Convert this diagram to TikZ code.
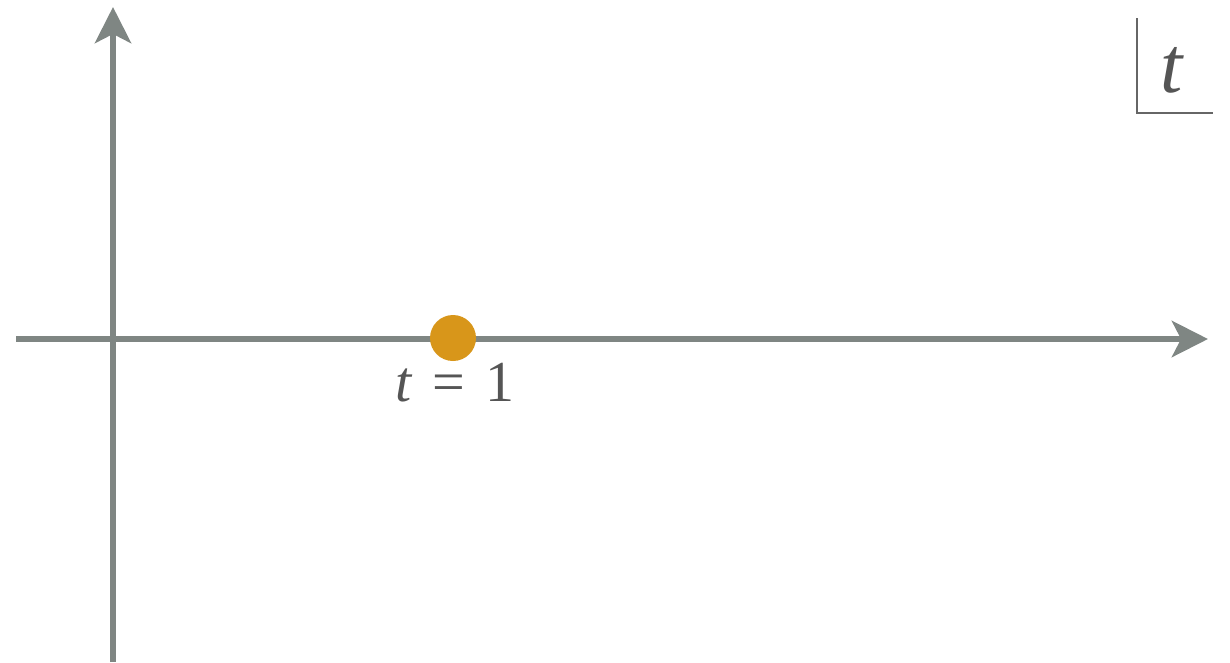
\documentclass[tikz,border=0pt]{standalone}
\usepackage{fontspec}
\setmainfont{Liberation Serif}
\usetikzlibrary{arrows.meta}
\definecolor{axisgray}{HTML}{7F8683}
\definecolor{dotorange}{HTML}{D8961A}
\definecolor{textgray}{HTML}{555555}
\definecolor{boxgray}{HTML}{666666}
\begin{document}
\begin{tikzpicture}[x=1pt,y=-1pt,
  axis/.style={draw=axisgray,line width=6.5pt,-{Stealth[length=36pt,width=36pt,inset=9pt]}},
  lbl/.style={text=textgray,inner sep=0pt}]
\useasboundingbox (0,0) rectangle (1230,662);
\coordinate (xs) at (16,339);
\coordinate (xe) at (1208,339);
\coordinate (ys) at (113,662);
\coordinate (ye) at (113,7);
\draw[axis] (xs) -- (xe);
\draw[axis] (ys) -- (ye);
\node[circle,fill=dotorange,minimum size=46pt,inner sep=0pt] (dot) at (453,338) {};
\node[lbl,font=\fontsize{58}{62}\selectfont,anchor=base] (lab) at (455,401) {\textit{t}\hspace{0.34em}=\hspace{0.34em}1};
\coordinate (bt) at (1137,18);
\coordinate (bc) at (1137,113);
\coordinate (br) at (1213,113);
\draw[boxgray,line width=2.4pt] (bt) -- (bc) -- (br);
\node[lbl,font=\fontsize{80}{84}\selectfont,anchor=base] (tl) at (1172,92) {\textit{t}};
\end{tikzpicture}
\end{document}
